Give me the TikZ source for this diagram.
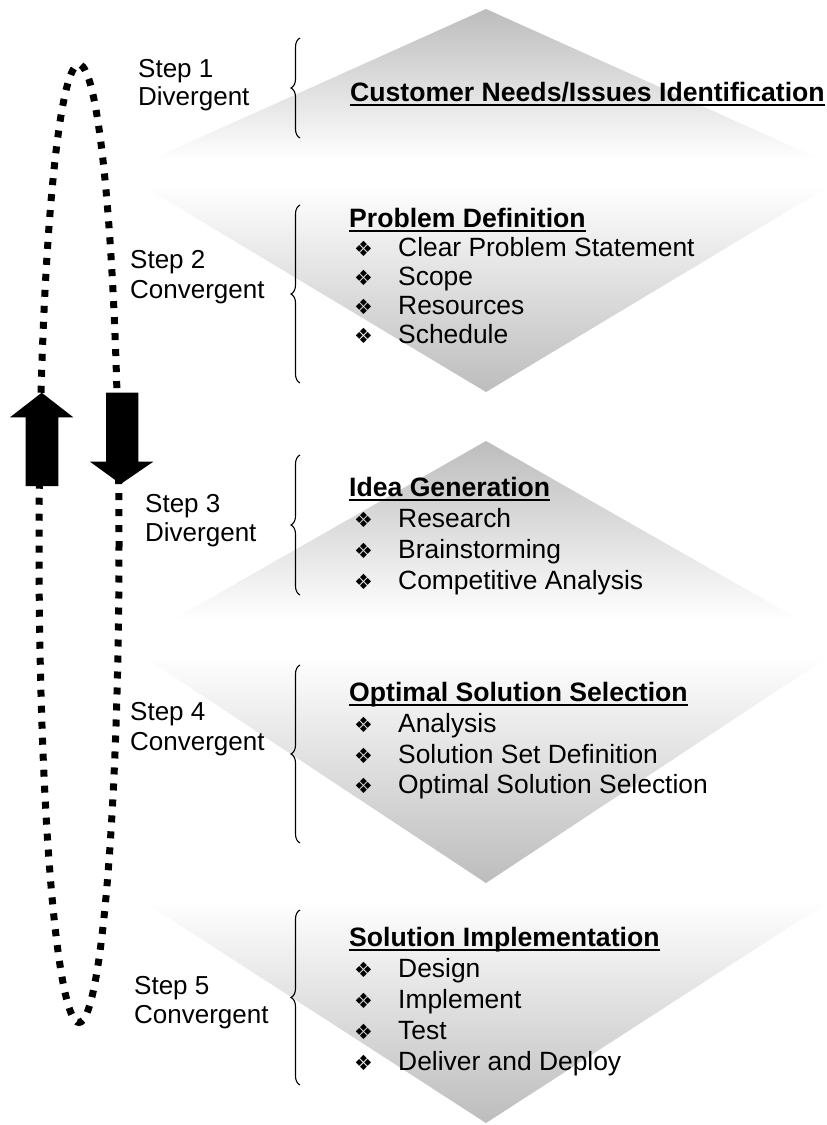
\documentclass[tikz,border=0pt]{standalone}
\usepackage{fontspec}
\setmainfont{Liberation Sans}
\newfontfamily\symfont{DejaVu Sans}
\usetikzlibrary{decorations.pathreplacing,calc}
\begin{document}
\begin{tikzpicture}[x=1pt,y=-1pt,
  txt/.style={anchor=base west, inner sep=0pt, font=\fontsize{26.4}{30}\selectfont},
  ttl/.style={anchor=base west, inner sep=0pt, font=\fontsize{26.6}{30}\selectfont\bfseries},
  steplbl/.style={anchor=base west, inner sep=0pt, font=\fontsize{26}{29}\selectfont},
  bul/.style={anchor=base west, inner sep=0pt, font=\symfont\fontsize{21}{24}\selectfont},
  uline/.style={line width=2.6pt},
  brc/.style={decorate, decoration={brace, amplitude=9pt}, line width=1.1pt},
  loopline/.style={line width=7pt, dash pattern=on 7pt off 9pt},
  blockarrow/.style={fill=black},
  upshade/.style={top color=black!26, bottom color=white},
  downshade/.style={top color=white, bottom color=black!26},
]
\useasboundingbox (0,0) rectangle (827,1125);
\fill[white] (0,0) rectangle (827,1125);

% gradient triangles
\shade[upshade] (486,9) -- (822,160) -- (150,160) -- cycle;
\shade[downshade] (141,185) -- (831,185) -- (486,392) -- cycle;
\shade[upshade] (486,441) -- (800,620) -- (172,620) -- cycle;
\shade[downshade] (141,655) -- (831,655) -- (486,883) -- cycle;
\shade[downshade] (141,900) -- (831,900) -- (486,1123) -- cycle;

% dotted loop
\draw[loopline] (79,543.5) ellipse [x radius=40, y radius=479];

% block arrows
\fill[blockarrow] (41.7,392.7) -- (73.3,417.3) -- (58.3,417.3) -- (58.3,486) -- (25.7,486) -- (25.7,417.3) -- (10,417.3) -- cycle;
\fill[blockarrow] (106,392.7) -- (138.3,392.7) -- (138.3,461.7) -- (153.3,461.7) -- (120.7,484) -- (90,461.7) -- (106,461.7) -- cycle;

% step labels
\node[steplbl] (s1a) at (138,77) {Step 1};
\node[steplbl] (s1b) at (138,105) {Divergent};
\node[steplbl] (s2a) at (130,268) {Step 2};
\node[steplbl] (s2b) at (130,298) {Convergent};
\node[steplbl] (s3a) at (145,512) {Step 3};
\node[steplbl] (s3b) at (145,541) {Divergent};
\node[steplbl] (s4a) at (130,720) {Step 4};
\node[steplbl] (s4b) at (130,750) {Convergent};
\node[steplbl] (s5a) at (134,994) {Step 5};
\node[steplbl] (s5b) at (134,1023) {Convergent};

% braces
\draw[brc] (300,138) -- (300,38);
\draw[brc] (300,383) -- (300,205);
\draw[brc] (300,595) -- (300,455);
\draw[brc] (300,843) -- (300,665);
\draw[brc] (300,1085) -- (300,910);

% step 1 content
\node[ttl] (t1) at (350,101) {Customer Needs/Issues Identification};
\draw[uline] ([yshift=-4pt]t1.base west) -- ([yshift=-4pt]t1.base east);

% step 2 content
\node[ttl] (t2) at (349,227) {Problem Definition};
\draw[uline] ([yshift=-4pt]t2.base west) -- ([yshift=-4pt]t2.base east);
\node[bul] (b21) at (354,256) {❖}; \node[txt] (i21) at (398,256) {Clear Problem Statement};
\node[bul] (b22) at (354,285) {❖}; \node[txt] (i22) at (398,285) {Scope};
\node[bul] (b23) at (354,314) {❖}; \node[txt] (i23) at (398,314) {Resources};
\node[bul] (b24) at (354,343) {❖}; \node[txt] (i24) at (398,343) {Schedule};

% step 3 content
\node[ttl] (t3) at (349,496) {Idea Generation};
\draw[uline] ([yshift=-4pt]t3.base west) -- ([yshift=-4pt]t3.base east);
\node[bul] (b31) at (354,527) {❖}; \node[txt] (i31) at (398,527) {Research};
\node[bul] (b32) at (354,558) {❖}; \node[txt] (i32) at (398,558) {Brainstorming};
\node[bul] (b33) at (354,589) {❖}; \node[txt] (i33) at (398,589) {Competitive Analysis};

% step 4 content
\node[ttl] (t4) at (349,701) {Optimal Solution Selection};
\draw[uline] ([yshift=-4pt]t4.base west) -- ([yshift=-4pt]t4.base east);
\node[bul] (b41) at (354,732) {❖}; \node[txt] (i41) at (398,732) {Analysis};
\node[bul] (b42) at (354,763) {❖}; \node[txt] (i42) at (398,763) {Solution Set Definition};
\node[bul] (b43) at (354,793) {❖}; \node[txt] (i43) at (398,793) {Optimal Solution Selection};

% step 5 content
\node[ttl] (t5) at (349,946) {Solution Implementation};
\draw[uline] ([yshift=-4pt]t5.base west) -- ([yshift=-4pt]t5.base east);
\node[bul] (b51) at (354,977) {❖}; \node[txt] (i51) at (398,977) {Design};
\node[bul] (b52) at (354,1008) {❖}; \node[txt] (i52) at (398,1008) {Implement};
\node[bul] (b53) at (354,1039) {❖}; \node[txt] (i53) at (398,1039) {Test};
\node[bul] (b54) at (354,1070) {❖}; \node[txt] (i54) at (398,1070) {Deliver and Deploy};
\end{tikzpicture}
\end{document}
